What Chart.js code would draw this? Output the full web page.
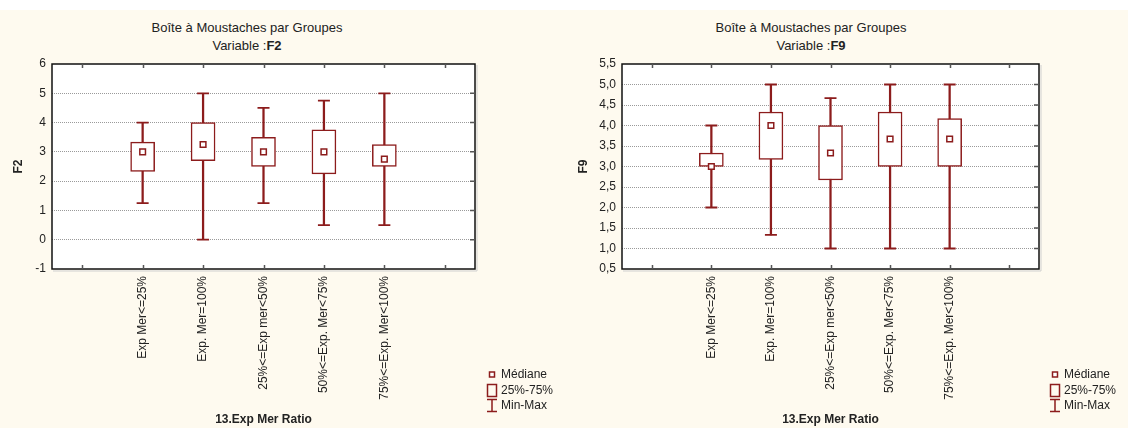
<!DOCTYPE html>
<html>
<head>
<meta charset="utf-8">
<script src="https://cdn.jsdelivr.net/npm/chart.js@4.4.1/dist/chart.umd.min.js"></script>
<style>
  body { margin: 0; background: #fff; font-family: 'Liberation Sans', Arial, sans-serif; color: #222; }
  #page { position: relative; width: 1128px; height: 428px; overflow: hidden; }
  #panel { position: absolute; left: 0; top: 10px; width: 1128px; height: 418px; background: #fefaef; }
  canvas { position: absolute; top: 10px; }
  .title { position: absolute; text-align: center; font-size: 13px; line-height: 14px; white-space: nowrap; }
  .legend { position: absolute; font-size: 12px; }
  .legend .row { height: 15.5px; line-height: 15.5px; display: flex; align-items: center; white-space: nowrap; }
  .legend svg { width: 12px; height: 15px; margin-right: 3px; flex: none; }
</style>
</head>
<body>
<div id="page">
  <div id="panel"></div>

  <div class="title" style="left:0; width:494px; top:21px;">Boîte à Moustaches par Groupes</div>
  <div class="title" style="left:0; width:494px; top:39px;">Variable :<b>F2</b></div>
  <div class="title" style="left:564px; width:494px; top:21px;">Boîte à Moustaches par Groupes</div>
  <div class="title" style="left:564px; width:494px; top:39px;">Variable :<b>F9</b></div>

  <canvas id="chartF2" width="490" height="418" style="left:0"></canvas>
  <canvas id="chartF9" width="494" height="418" style="left:564px"></canvas>

  <div class="legend" style="left:486px; top:367px;">
    <div class="row"><svg viewBox="0 0 12 15"><rect x="3.5" y="5" width="5" height="5" fill="#fff" stroke="#8c1c1c" stroke-width="1.5"/></svg>Médiane</div>
    <div class="row"><svg viewBox="0 0 12 15"><rect x="1.5" y="1.5" width="9" height="12" fill="none" stroke="#8c1c1c" stroke-width="1.5"/></svg>25%-75%</div>
    <div class="row"><svg viewBox="0 0 12 15"><path d="M1 1.5H11M6 1.5V13.5M1 13.5H11" fill="none" stroke="#8c1c1c" stroke-width="1.5"/></svg>Min-Max</div>
  </div>
  <div class="legend" style="left:1049px; top:367px;">
    <div class="row"><svg viewBox="0 0 12 15"><rect x="3.5" y="5" width="5" height="5" fill="#fff" stroke="#8c1c1c" stroke-width="1.5"/></svg>Médiane</div>
    <div class="row"><svg viewBox="0 0 12 15"><rect x="1.5" y="1.5" width="9" height="12" fill="none" stroke="#8c1c1c" stroke-width="1.5"/></svg>25%-75%</div>
    <div class="row"><svg viewBox="0 0 12 15"><path d="M1 1.5H11M6 1.5V13.5M1 13.5H11" fill="none" stroke="#8c1c1c" stroke-width="1.5"/></svg>Min-Max</div>
  </div>
</div>

<script>
// groups of 13.Exp Mer Ratio (one empty slot each side, as in the original)
const groups = ['Exp Mer<=25%', 'Exp. Mer=100%', '25%<=Exp mer<50%', '50%<=Exp. Mer<75%', '75%<=Exp. Mer<100%'];

// F2
const f2Min    = [1.25, 0,    1.25, 0.5,  0.5];
const f2Q1     = [2.33, 2.7,  2.5,  2.25, 2.5];
const f2Median = [3,    3.25, 3,    3,    2.75];
const f2Q3     = [3.33, 4,    3.5,  3.75, 3.25];
const f2Max    = [4,    5,    4.5,  4.75, 5];

// F9
const f9Min    = [2,    1.33, 1,    1,    1];
const f9Q1     = [3,    3.17, 2.67, 3,    3];
const f9Median = [3,    4,    3.33, 3.67, 3.67];
const f9Q3     = [3.33, 4.33, 4,    4.33, 4.17];
const f9Max    = [4,    5,    4.67, 5,    5];

// y axis ranges
const f2Axis = { min: -1, max: 6, step: 1 };
const f9Axis = { min: 0.5, max: 5.5, step: 0.5 };

const RED = '#8c1c1c';

Chart.defaults.font.family = "'Liberation Sans', Arial, sans-serif";
Chart.defaults.font.size = 12;
Chart.defaults.color = '#222';

// white plot background, black frame and small inward tick marks
const plotFrame = {
  id: 'plotFrame',
  beforeDraw(chart) {
    const { ctx, chartArea: a } = chart;
    ctx.save();
    ctx.fillStyle = '#fff';
    ctx.fillRect(a.left, a.top, a.width, a.height);
    ctx.restore();
  },
  afterDraw(chart) {
    const { ctx, chartArea: a, scales: { x, y } } = chart;
    ctx.save();
    ctx.strokeStyle = '#cfcfcf';
    ctx.lineWidth = 1;
    ctx.beginPath();
    ctx.moveTo(a.right + 2, a.top + 1);
    ctx.lineTo(a.right + 2, a.bottom + 2);
    ctx.lineTo(a.left + 1, a.bottom + 2);
    ctx.stroke();

    ctx.strokeStyle = '#111';
    ctx.lineWidth = 1.5;
    ctx.strokeRect(a.left, a.top, a.width, a.height);

    ctx.strokeStyle = '#555';
    ctx.lineWidth = 1.5;
    ctx.beginPath();
    x.ticks.forEach((t, i) => {
      const px = Math.round(x.getPixelForTick(i)) + 0.5;
      ctx.moveTo(px, a.top); ctx.lineTo(px, a.top + 4);
      ctx.moveTo(px, a.bottom); ctx.lineTo(px, a.bottom - 4);
    });
    y.ticks.forEach((t, i) => {
      if (i === 0 || i === y.ticks.length - 1) return;
      const py = y.getPixelForTick(i);
      ctx.moveTo(a.right, py); ctx.lineTo(a.right - 5, py);
    });
    ctx.stroke();
    ctx.restore();
  }
};

function pad(arr) {
  return [null, ...arr, null];
}

function createBoxChart(elementId, varName, mins, q1s, medians, q3s, maxs, axis, yWidth, titlePad, rightPad, decimals) {
  const ctx = document.getElementById(elementId);
  const labels = ['', ...groups, ''];

  new Chart(ctx, {
    type: 'bar',
    data: {
      labels: labels,
      datasets: [
        {
          // whisker line min..max
          type: 'bar',
          data: pad(mins.map((v, i) => [v, maxs[i]])),
          backgroundColor: RED,
          borderWidth: 0,
          barThickness: 1.6,
          grouped: false,
          order: 4
        },
        {
          // 25%-75% box
          type: 'bar',
          data: pad(q1s.map((v, i) => [v, q3s[i]])),
          backgroundColor: '#fff',
          borderColor: RED,
          borderWidth: 1.5,
          borderSkipped: false,
          barThickness: 24,
          grouped: false,
          order: 3
        },
        {
          // whisker caps
          type: 'line',
          data: pad(maxs),
          showLine: false,
          pointStyle: 'line',
          pointRadius: 6,
          pointBorderWidth: 1.8,
          pointBorderColor: RED,
          order: 2
        },
        {
          type: 'line',
          data: pad(mins),
          showLine: false,
          pointStyle: 'line',
          pointRadius: 6,
          pointBorderWidth: 1.8,
          pointBorderColor: RED,
          order: 2
        },
        {
          // median
          type: 'line',
          data: pad(medians),
          showLine: false,
          pointStyle: 'rect',
          pointRadius: 4,
          pointBorderWidth: 1.5,
          pointBorderColor: RED,
          pointBackgroundColor: '#fff',
          order: 1
        }
      ]
    },
    options: {
      responsive: false,
      animation: false,
      layout: { padding: { top: 54, right: rightPad, bottom: 0, left: 0 } },
      scales: {
        x: {
          offset: true,
          grid: { display: false, drawTicks: false },
          border: { display: false },
          ticks: { autoSkip: false, minRotation: 90, maxRotation: 90, padding: 7, color: '#222' },
          title: { display: true, text: '13.Exp Mer Ratio', font: { weight: 'bold', size: 12 }, padding: { top: 0, bottom: 1 }, color: '#222' },
          afterFit(scale) { scale.height = 159; }
        },
        y: {
          min: axis.min,
          max: axis.max,
          ticks: {
            stepSize: axis.step,
            padding: 6,
            color: '#222',
            callback: v => decimals ? v.toFixed(1).replace('.', ',') : String(v)
          },
          grid: {
            drawTicks: false,
            color: c => (c.index === 0 || c.index === c.chart.scales.y.ticks.length - 1) ? 'rgba(0,0,0,0)' : '#9a9a9a',
            lineWidth: 1
          },
          border: { display: false, dash: [1, 1] },
          title: { display: true, text: varName, font: { weight: 'bold', size: 12 }, padding: { top: titlePad, bottom: 0 }, color: '#222' },
          afterFit(scale) { scale.width = yWidth; }
        }
      },
      plugins: {
        legend: { display: false },
        tooltip: { enabled: false }
      }
    },
    plugins: [plotFrame]
  });
}

createBoxChart('chartF2', 'F2', f2Min, f2Q1, f2Median, f2Q3, f2Max, f2Axis, 52, 11, 15, false);
createBoxChart('chartF9', 'F9', f9Min, f9Q1, f9Median, f9Q3, f9Max, f9Axis, 58, 12, 19, true);
</script>
</body>
</html>
